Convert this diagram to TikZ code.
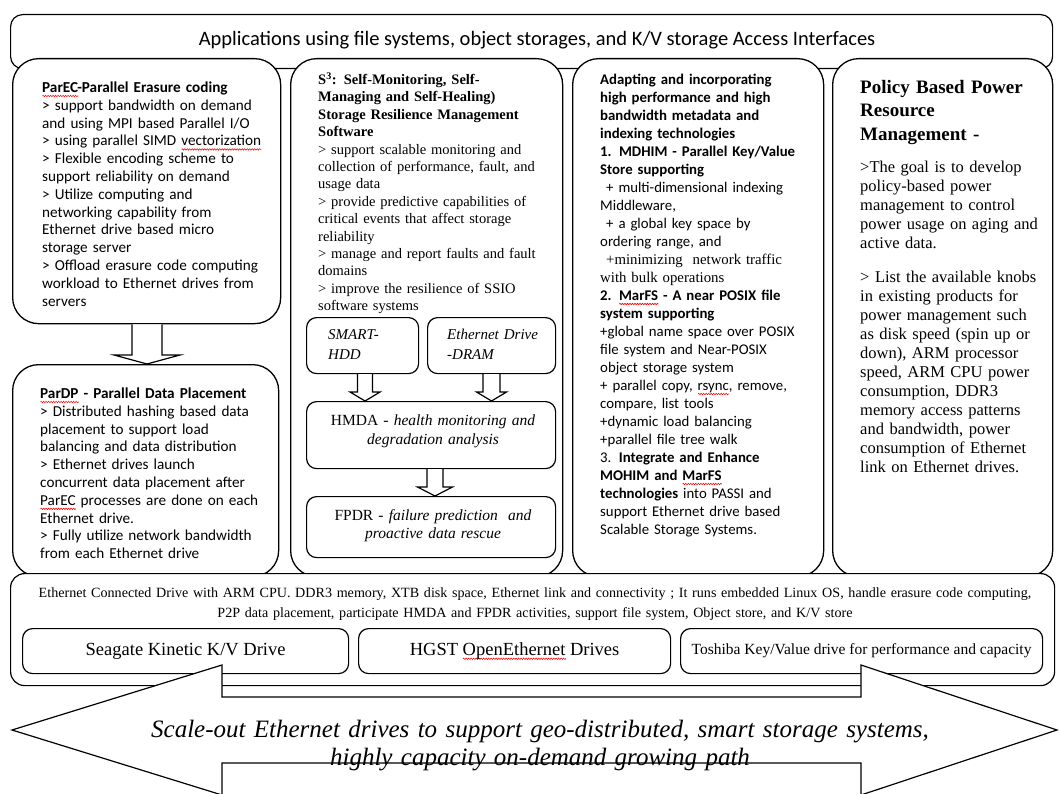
\documentclass[tikz,border=0pt]{standalone}
\usepackage{fontspec}
\setmainfont{Liberation Serif}
\newfontfamily\calib{Carlito}
\usetikzlibrary{calc,decorations.pathmorphing}
\newlength\sqw
\newcommand\redsq[1]{\settowidth\sqw{#1}\leavevmode\rlap{\raisebox{-3.5pt}{\tikz[x=1pt,y=1pt,baseline=0pt]\draw[red,line width=0.6pt,decorate,decoration={zigzag,segment length=2.5pt,amplitude=0.7pt}] (0,0) -- (\the\sqw,0);}}#1}
\newcommand\downblk[5]{%
  \draw[blk] let \p1=(#1.south), \p2=(#2.north) in
  (#3pt-#4pt,\y1) -- (#3pt-#4pt,\y2+9pt) -- (#3pt-#5pt,\y2+9pt) -- (#3pt,\y2)
  -- (#3pt+#5pt,\y2+9pt) -- (#3pt+#4pt,\y2+9pt) -- (#3pt+#4pt,\y1);}
\tikzset{
  colbox/.style={draw, line width=1.3pt, fill=white, rounded corners=26pt, inner sep=0pt, anchor=north west},
  subbox/.style={draw, line width=1.2pt, fill=white, rounded corners=10pt, inner sep=0pt, anchor=north west},
  blk/.style={draw, line width=1.2pt, fill=white, line join=miter},
  txt/.style={inner sep=0pt, align=left, anchor=base west},
  ctxt/.style={inner sep=0pt, align=center, anchor=base},
}
\begin{document}
\begin{tikzpicture}[x=1pt,y=-1pt]
\useasboundingbox (0,0) rectangle (1060,794);
\fill[white] (0,0) rectangle (1060,794);

% banner
\node[subbox, rounded corners=12pt, minimum width=1042pt, minimum height=54pt] (banner) at (10,14) {};
\node[inner sep=0pt, font={\calib\fontsize{20.5}{24}\selectfont}] (bannertxt) at (537,40) {Applications using file systems, object storages, and K/V storage Access Interfaces};

% columns
\node[colbox, minimum width=268pt, minimum height=265pt] (parec) at (12,58) {};
\node[colbox, minimum width=266pt, minimum height=212pt] (pardp) at (12,364) {};
\node[colbox, minimum width=272pt, minimum height=518pt] (s3) at (290,58) {};
\node[colbox, minimum width=251pt, minimum height=518pt] (meta) at (572,58) {};
\node[colbox, minimum width=220pt, minimum height=518pt] (power) at (832,58) {};

% column 1 text
\node[txt, text width=260pt, font={\calib\fontsize{15.2}{17.8}\selectfont}] (parectxt) at (42,92.5) {%
\textbf{\redsq{ParEC}-Parallel Erasure coding}\\
> support bandwidth on demand\\
and using MPI based Parallel I/O\\
> using parallel SIMD \redsq{vectorization}\\
> Flexible encoding scheme to\\
support reliability on demand\\
> Utilize computing and\\
networking capability from\\
Ethernet drive based micro\\
storage server\\
> Offload erasure code computing\\
workload to Ethernet drives from\\
servers};
\node[txt, text width=260pt, font={\calib\fontsize{15.2}{17.8}\selectfont}] (pardptxt) at (40,398.5) {%
\textbf{\redsq{ParDP} - Parallel Data Placement}\\
> Distributed hashing based data\\
placement to support load\\
balancing and data distribution\\
> Ethernet drives launch\\
concurrent data placement after\\
\redsq{ParEC} processes are done on each\\
Ethernet drive.\\
> Fully utilize network bandwidth\\
from each Ethernet drive};
\downblk{parec}{pardp}{147}{15}{33}

% column 2
\node[txt, text width=260pt, font={\fontsize{14.5}{17.4}\selectfont}] (s3txt) at (318,84.5) {%
\textbf{S\textsuperscript{3}: Self-Monitoring, Self-}\\
\textbf{Managing and Self-Healing)}\\
\textbf{Storage Resilience  Management}\\
\textbf{Software}\\
> support scalable monitoring and\\
collection of performance, fault, and\\
usage data\\
> provide predictive capabilities of\\
critical events that affect storage\\
reliability\\
> manage and report faults and fault\\
domains\\
> improve the resilience of SSIO\\
software systems};
\node[subbox, minimum width=112pt, minimum height=56pt] (smart) at (306,317) {};
\node[subbox, minimum width=128pt, minimum height=56pt] (dram) at (427,317) {};
\node[txt, text width=100pt, font={\itshape\fontsize{15}{20}\selectfont}] (smarttxt) at (328,339.5) {SMART-\\HDD};
\node[txt, text width=120pt, font={\itshape\fontsize{15}{20}\selectfont}] (dramtxt) at (447,339.5) {Ethernet Drive\\-DRAM};
\node[subbox, minimum width=249pt, minimum height=67pt] (hmda) at (306,401) {};
\node[subbox, minimum width=249pt, minimum height=61pt] (fpdr) at (306,496) {};
\node[ctxt, text width=245pt, font={\fontsize{15.5}{19.5}\selectfont}] (hmdatxt) at (433,425) {HMDA - \textit{health monitoring and}\\\textit{degradation analysis}};
\node[ctxt, text width=245pt, font={\fontsize{15.5}{18.5}\selectfont}] (fpdrtxt) at (433,520) {FPDR - \textit{failure prediction \ and}\\\textit{proactive data rescue}};
\downblk{smart}{hmda}{365}{7.5}{15}
\downblk{dram}{hmda}{491.5}{8.5}{15}
\downblk{hmda}{fpdr}{435}{8}{17.5}

% column 3
\node[txt, text width=250pt, font={\calib\fontsize{14.8}{18}\selectfont}] (metatxt) at (600,84.5) {%
\textbf{Adapting and incorporating}\\
\textbf{high performance and high}\\
\textbf{bandwidth metadata and}\\
\textbf{indexing technologies}\\
\textbf{1. MDHIM - Parallel Key/Value}\\
\textbf{Store supporting}\\
\hspace*{6pt}+ multi-dimensional indexing\\
Middleware,\\
\hspace*{6pt}+ a global key space by\\
ordering range, and\\
\hspace*{6pt}{\rmfamily +minimizing \ network traffic}\\
{\rmfamily with bulk operations}\\
\textbf{2. \redsq{MarFS} - A near POSIX file}\\
\textbf{system supporting}\\
+global name space over POSIX\\
file system and Near-POSIX\\
object storage system\\
+ parallel copy, \redsq{rsync}, remove,\\
compare, list tools\\
+dynamic load balancing\\
+parallel file tree walk\\
3. \textbf{Integrate and Enhance}\\
\textbf{MOHIM and \redsq{MarFS}}\\
\textbf{technologies} into PASSI and\\
support Ethernet drive based\\
Scalable Storage Systems.};

% column 4
\node[txt, text width=200pt, font={\bfseries\fontsize{19}{23.5}\selectfont}] (powertitle) at (860,93.5) {%
Policy Based Power\\Resource\\Management -};
\node[txt, text width=200pt, font={\fontsize{16.5}{19}\selectfont}] (powertxt) at (860,173) {%
>The goal is to develop\\
policy-based power\\
management to control\\
power usage on aging and\\
active data.\\[15pt]
> List the available knobs\\
in existing products for\\
power management such\\
as disk speed (spin up or\\
down), ARM processor\\
speed, ARM CPU power\\
consumption, DDR3\\
memory access patterns\\
and bandwidth, power\\
consumption of Ethernet\\
link on Ethernet drives.};

% bottom box
\node[subbox, rounded corners=14pt, minimum width=1044pt, minimum height=112pt] (drive) at (10,573) {};
\node[ctxt, text width=1040pt, font={\fontsize{14.1}{20}\selectfont}] (drivetxt) at (535,597) {%
Ethernet Connected Drive with ARM CPU. DDR3 memory, XTB disk space, Ethernet link and connectivity ; It runs embedded Linux OS, handle erasure code computing,\\
P2P data placement, participate HMDA and FPDR activities, support file system, Object store, and K/V store};
\node[subbox, minimum width=326pt, minimum height=45pt] (seagate) at (22,628) {};
\node[subbox, minimum width=312pt, minimum height=45pt] (hgst) at (358,628) {};
\node[subbox, minimum width=362pt, minimum height=45pt] (toshiba) at (680,628) {};
\node[inner sep=0pt, font={\fontsize{18.5}{22}\selectfont}] (seagatetxt) at (seagate.center) {Seagate Kinetic K/V Drive};
\node[inner sep=0pt, font={\fontsize{18.5}{22}\selectfont}] (hgsttxt) at (hgst.center) {HGST \redsq{OpenEthernet} Drives};
\node[inner sep=0pt, font={\fontsize{15.5}{18}\selectfont}] (toshibatxt) at (toshiba.center) {Toshiba Key/Value drive for performance and capacity};

% big double arrow
\draw[blk] (12,730) -- (222,665) -- (222,697) -- (861,697) -- (861,665) -- (1057,730)
  -- (861,795) -- (861,763) -- (222,763) -- (222,795) -- cycle;
\node[ctxt, text width=900pt, font={\itshape\fontsize{25}{28}\selectfont}] (arrowtxt) at (540,737) {%
Scale-out Ethernet drives to support geo-distributed, smart storage systems,\\
highly capacity on-demand growing path};
\end{tikzpicture}
\end{document}
